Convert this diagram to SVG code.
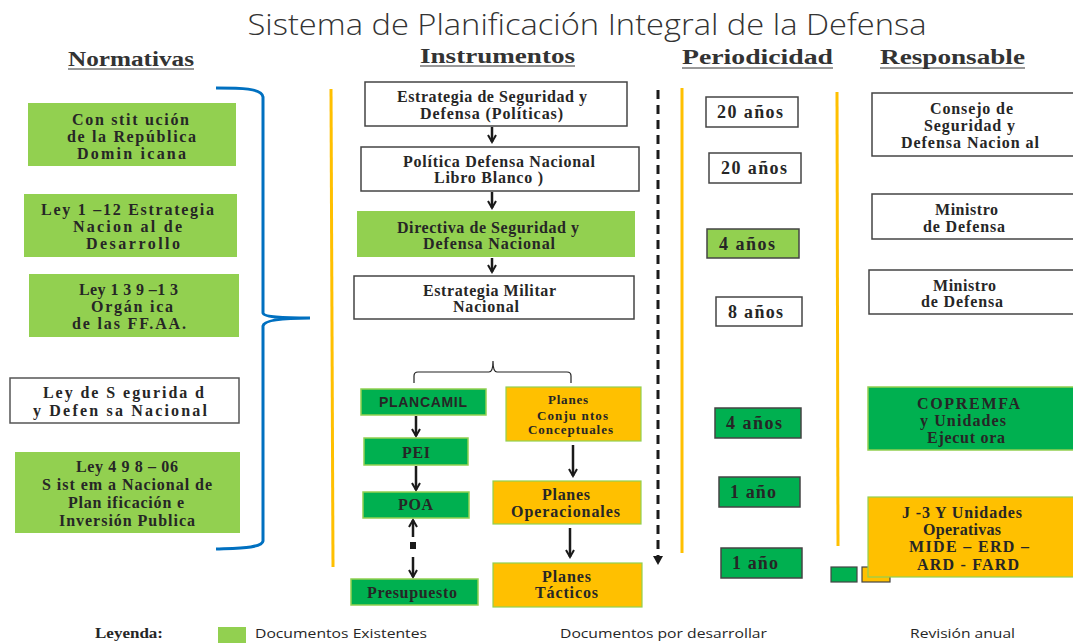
<svg xmlns="http://www.w3.org/2000/svg" width="1073" height="643" viewBox="0 0 1073 643">
<defs>
<style>
.t{font-family:"Liberation Serif","DejaVu Serif",serif;font-weight:bold;fill:#262626}
.s13{font-size:13px}
.s16{font-size:16px}
.s18{font-size:18px}
.h{font-family:"Liberation Serif","DejaVu Serif",serif;font-weight:bold;font-size:20px;fill:#333}
.lg{font-family:"Open Sans","Liberation Sans",sans-serif;font-size:13px;fill:#262626}
.w{fill:#fff;stroke:#444;stroke-width:1.5}
.lgn{fill:#92d050}
.dgn{fill:#00b050;stroke:#92d050;stroke-width:1.5}
.org{fill:#ffc000;stroke:#92d050;stroke-width:1.2}
.yl{stroke:#ffc000;stroke-width:3;fill:none}
.ar{stroke:#1a1a1a;stroke-width:2.5;fill:none}
</style>
<marker id="chev" viewBox="0 0 10 10" refX="8" refY="5" markerWidth="4" markerHeight="4" orient="auto" markerUnits="strokeWidth">
<path d="M1,1 L8,5 L1,9" fill="none" stroke="#1a1a1a" stroke-width="2"/>
</marker>
</defs>
<rect width="1073" height="643" fill="#fff"/>

<text x="587" y="35" font-family="Open Sans, Liberation Sans, sans-serif" font-weight="300" font-size="30" fill="#333" text-anchor="middle" textLength="679" lengthAdjust="spacingAndGlyphs">Sistema de Planificación Integral de la Defensa</text>

<g id="headers">
<text class="h" x="68" y="66" textLength="126" lengthAdjust="spacingAndGlyphs">Normativas</text>
<line x1="68" y1="69" x2="194" y2="69" stroke="#333" stroke-width="1"/>
<text class="h" x="420" y="63" textLength="155" lengthAdjust="spacingAndGlyphs">Instrumentos</text>
<line x1="420" y1="66" x2="575" y2="66" stroke="#333" stroke-width="1"/>
<text class="h" x="682" y="64" textLength="151" lengthAdjust="spacingAndGlyphs">Periodicidad</text>
<line x1="682" y1="68" x2="833" y2="68" stroke="#333" stroke-width="1"/>
<text class="h" x="880" y="64" textLength="145" lengthAdjust="spacingAndGlyphs">Responsable</text>
<line x1="880" y1="68" x2="1025" y2="68" stroke="#333" stroke-width="1"/>
</g>

<g id="connectors">
<path d="M216,88 C240,88 262,88 263,97 L263,313 C264,318 290,318 310,318 C290,318 264,319 263,326 L263,541 C262,548 240,548 216,549" fill="none" stroke="#0070c0" stroke-width="3"/>
<line class="yl" x1="331" y1="89" x2="333" y2="567"/>
<line class="yl" x1="682" y1="88" x2="682" y2="553"/>
<line class="yl" x1="837" y1="92" x2="838" y2="546"/>
<line x1="658" y1="90" x2="658" y2="558" stroke="#1a1a1a" stroke-width="3" stroke-dasharray="9,6"/>
<path d="M653,556 L663,556 L658,565 z" fill="#1a1a1a"/>
<line class="ar" x1="492" y1="127" x2="492" y2="142" marker-end="url(#chev)"/>
<line class="ar" x1="492" y1="192" x2="492" y2="208" marker-end="url(#chev)"/>
<line class="ar" x1="492" y1="258" x2="492" y2="272" marker-end="url(#chev)"/>
<path d="M414,383 L414,376 Q414,372 418,372 L489,372 Q493,372 493,361 Q493,372 497,372 L567,372 Q571,372 571,376 L571,383" fill="none" stroke="#222" stroke-width="1.2"/>
<line class="ar" x1="416" y1="416" x2="416" y2="436" marker-end="url(#chev)"/>
<line class="ar" x1="416" y1="466" x2="416" y2="490" marker-end="url(#chev)"/>
<line class="ar" x1="413" y1="537" x2="413" y2="520" marker-end="url(#chev)"/>
<rect x="410" y="542" width="6" height="7" fill="#1a1a1a"/>
<line class="ar" x1="413" y1="557" x2="413" y2="577" marker-end="url(#chev)"/>
<line class="ar" x1="573" y1="445" x2="573" y2="476" marker-end="url(#chev)"/>
<line class="ar" x1="570" y1="528" x2="570" y2="557" marker-end="url(#chev)"/>
</g>

<g id="n-constitucion"><rect class="lgn" x="28" y="103" width="208" height="63"/>
<text class="t s16" x="72" y="125" textLength="117">Con stit ución</text>
<text class="t s16" x="67" y="142" textLength="129">de la República</text>
<text class="t s16" x="77" y="159" textLength="109">Domin icana</text></g>

<g id="n-ley112"><rect class="lgn" x="24" y="194" width="213" height="63"/>
<text class="t s16" x="41" y="215" textLength="173">Ley 1 –12 Estrategia</text>
<text class="t s16" x="73" y="232" textLength="109">Nacion al de</text>
<text class="t s16" x="86" y="249" textLength="94">Desarrollo</text></g>

<g id="n-ley13913"><rect class="lgn" x="29" y="274" width="210" height="63"/>
<text class="t s16" x="79" y="295" textLength="99">Ley 1 3 9 –1 3</text>
<text class="t s16" x="91" y="312" textLength="82">Orgán ica</text>
<text class="t s16" x="72" y="329" textLength="114">de las  FF.AA.</text></g>

<g id="n-leyseg"><rect x="10" y="378" width="229" height="45" fill="#fff" stroke="#555" stroke-width="1.5"/>
<text class="t s16" x="43" y="398" textLength="161">Ley de  S egurida d</text>
<text class="t s16" x="33" y="416" textLength="174">y Defen sa Nacional</text></g>

<g id="n-ley49806"><rect class="lgn" x="15" y="452" width="225" height="81"/>
<text class="t s16" x="76" y="472" textLength="102">Ley 4 9 8 – 06</text>
<text class="t s16" x="42" y="490" textLength="170">S ist em a Nacional de</text>
<text class="t s16" x="68" y="508" textLength="116">Plan ificación e</text>
<text class="t s16" x="59" y="526" textLength="136">Inversión Publica</text></g>

<g id="n-estrategia"><rect class="w" x="365" y="82" width="262" height="44"/>
<text class="t s16" x="397" y="102" textLength="190">Estrategia de Seguridad y</text>
<text class="t s16" x="420" y="119" textLength="143">Defensa (Políticas)</text></g>

<g id="n-politica"><rect class="w" x="361" y="147" width="278" height="44"/>
<text class="t s16" x="403" y="167" textLength="192">Política Defensa Nacional</text>
<text class="t s16" x="434" y="183" textLength="109">Libro Blanco )</text></g>

<g id="n-directiva"><rect class="lgn" x="357" y="211" width="278" height="46"/>
<text class="t s16" x="397" y="233" textLength="182">Directiva de Seguridad y</text>
<text class="t s16" x="423" y="249" textLength="132">Defensa Nacional</text></g>

<g id="n-militar"><rect class="w" x="354" y="276" width="280" height="43"/>
<text class="t s16" x="423" y="296" textLength="133">Estrategia Militar</text>
<text class="t s16" x="453" y="312" textLength="66">Nacional</text></g>

<g id="n-plancamil"><rect class="dgn" x="361" y="389" width="125" height="26"/>
<text x="379" y="407" font-family="Liberation Sans, Arial, sans-serif" font-weight="bold" font-size="14" fill="#262626" textLength="88">PLANCAMIL</text></g>

<g id="n-pei"><rect class="dgn" x="364" y="438" width="104" height="27"/>
<text class="t s16" x="402" y="458" textLength="28">PEI</text></g>

<g id="n-poa"><rect class="dgn" x="363" y="492" width="106" height="26"/>
<text class="t s16" x="398" y="510" textLength="35">POA</text></g>

<g id="n-presupuesto"><rect class="dgn" x="351" y="579" width="127" height="26"/>
<text class="t s16" x="367" y="598" textLength="90">Presupuesto</text></g>

<g id="n-conjuntos"><rect class="org" x="506" y="387" width="135" height="54"/>
<text class="t s13" x="548" y="404" textLength="40">Planes</text>
<text class="t s13" x="537" y="420" textLength="71">Conju ntos</text>
<text class="t s13" x="528" y="434" textLength="85">Conceptuales</text></g>

<g id="n-operacionales"><rect class="org" x="493" y="481" width="148" height="43"/>
<text class="t s16" x="542" y="500" textLength="48">Planes</text>
<text class="t s16" x="511" y="517" textLength="109">Operacionales</text></g>

<g id="n-tacticos"><rect class="org" x="493" y="563" width="149" height="44"/>
<text class="t s16" x="542" y="582" textLength="49">Planes</text>
<text class="t s16" x="535" y="598" textLength="63">Tácticos</text></g>

<g id="n-p1"><rect class="w" x="706" y="97" width="92" height="30"/><text class="t s18" x="717" y="118" textLength="66">20 años</text></g>
<g id="n-p2"><rect class="w" x="709" y="153" width="92" height="30"/><text class="t s18" x="721" y="174" textLength="66">20 años</text></g>
<g id="n-p3"><rect x="707" y="229" width="92" height="29" fill="#92d050" stroke="#444" stroke-width="1.5"/><text class="t s18" x="719" y="250" textLength="56">4 años</text></g>
<g id="n-p4"><rect class="w" x="716" y="297" width="86" height="29"/><text class="t s18" x="728" y="318" textLength="55">8 años</text></g>
<g id="n-p5"><rect x="715" y="408" width="86" height="30" fill="#00b050" stroke="#444" stroke-width="1.5"/><text class="t s18" x="726" y="429" textLength="56">4 años</text></g>
<g id="n-p6"><rect x="719" y="477" width="81" height="30" fill="#00b050" stroke="#444" stroke-width="1.5"/><text class="t s18" x="730" y="498" textLength="46">1 año</text></g>
<g id="n-p7"><rect x="721" y="548" width="81" height="30" fill="#00b050" stroke="#444" stroke-width="1.5"/><text class="t s18" x="732" y="569" textLength="46">1 año</text></g>

<g id="n-consejo"><rect class="w" x="872" y="93" width="210" height="63"/>
<text class="t s16" x="930" y="114" textLength="83">Consejo de</text>
<text class="t s16" x="924" y="131" textLength="91">Seguridad y</text>
<text class="t s16" x="901" y="148" textLength="138">Defensa Nacion al</text></g>

<g id="n-ministro1"><rect class="w" x="872" y="194" width="210" height="45"/>
<text class="t s16" x="935" y="215" textLength="63">Ministro</text>
<text class="t s16" x="923" y="232" textLength="82">de Defensa</text></g>

<g id="n-ministro2"><rect class="w" x="869" y="270" width="213" height="44"/>
<text class="t s16" x="933" y="291" textLength="63">Ministro</text>
<text class="t s16" x="921" y="307" textLength="82">de Defensa</text></g>

<g id="n-copremfa"><rect class="dgn" x="868" y="387" width="214" height="63"/>
<text class="t s16" x="917" y="409" textLength="103">COPREMFA</text>
<text class="t s16" x="920" y="426" textLength="86">y Unidades</text>
<text class="t s16" x="927" y="443" textLength="78">Ejecut ora</text></g>

<g id="legend-squares">
<rect x="831" y="567" width="26" height="15" fill="#00b050" stroke="#444" stroke-width="1.2"/>
<rect x="862" y="567" width="28" height="15" fill="#ffc000" stroke="#444" stroke-width="1.2"/>
</g>

<g id="n-j3"><rect class="org" x="868" y="497" width="214" height="80"/>
<text class="t s16" x="902" y="518" textLength="120">J -3 Y Unidades</text>
<text class="t s16" x="923" y="535" textLength="78">Operativas</text>
<text class="t s16" x="909" y="552" textLength="120">MIDE – ERD –</text>
<text class="t s16" x="917" y="570" textLength="102">ARD - FARD</text></g>

<g id="legend">
<text x="95" y="638" font-family="Liberation Serif, serif" font-weight="bold" font-size="14" fill="#262626" textLength="68" lengthAdjust="spacingAndGlyphs">Leyenda:</text>
<rect x="218" y="627" width="28" height="16" fill="#92d050"/>
<text class="lg" x="255" y="638" textLength="172" lengthAdjust="spacingAndGlyphs">Documentos Existentes</text>
<text class="lg" x="560" y="638" textLength="207" lengthAdjust="spacingAndGlyphs">Documentos por desarrollar</text>
<text class="lg" x="910" y="638" textLength="105" lengthAdjust="spacingAndGlyphs">Revisión anual</text>
</g>
</svg>
